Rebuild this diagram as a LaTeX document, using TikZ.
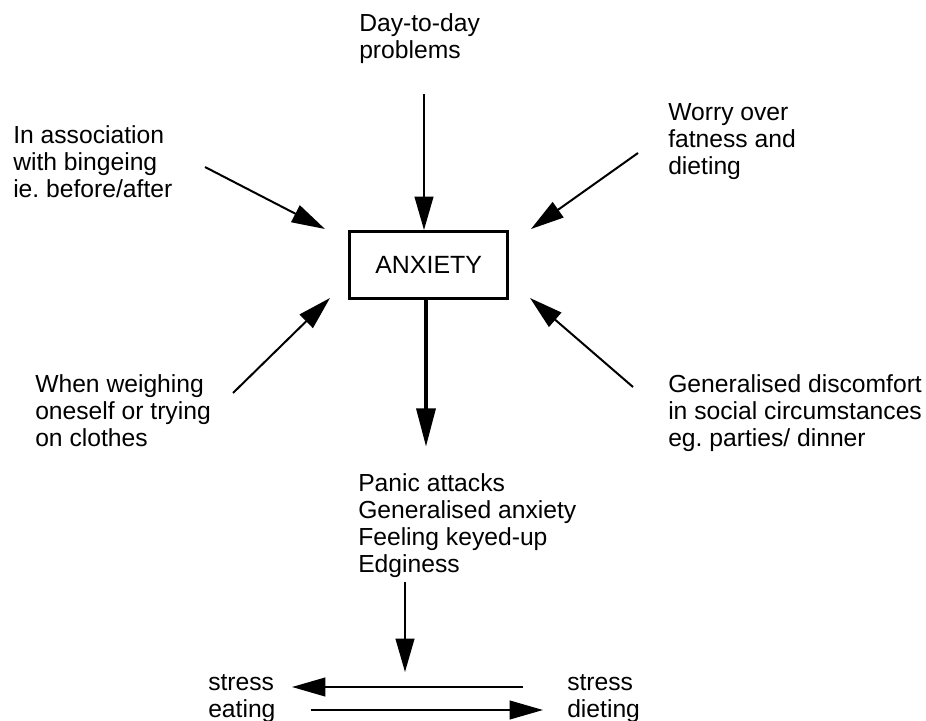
\documentclass[tikz,border=0pt]{standalone}
\usepackage{fontspec}
\setmainfont{Liberation Sans}
\usepackage{tikz}
\usetikzlibrary{positioning, arrows.meta}
\frenchspacing

\begin{document}
\begin{tikzpicture}[x=0.75pt, y=-0.75pt,
    txt/.style={anchor=base west, inner sep=0pt, align=left, font=\fontsize{18.5}{20.25}\selectfont},
    arr/.style={line width=1.5pt, arrows = {-Triangle[width=14pt, length=25pt]}},
    thickarr/.style={line width=3.4pt, arrows = {-Triangle[width=14pt, length=29pt]}}]
    \useasboundingbox (0,0) rectangle (926,721);

    \node[draw, line width=2pt, minimum width=118.5pt, minimum height=50.5pt, font=\fontsize{18.7}{20.25}\selectfont] at (428.7,265) (anx) {ANXIETY};

    % text nodes, placed at the baseline of their last line
    \node[txt] at (359,58) (day) {Day-to-day\\problems};
    \node[txt] at (13,197) (assoc) {In association\\with bingeing\\ie. before/after};
    \node[txt] at (668,174) (worry) {Worry over\\fatness and\\dieting};
    \node[txt] at (35,446) (weigh) {When weighing\\oneself or trying\\on clothes};
    \node[txt] at (668,446) (social) {Generalised discomfort\\in social circumstances\\eg. parties/ dinner};
    \node[txt] at (358,572) (panic) {Panic attacks\\Generalised anxiety\\Feeling keyed-up\\Edginess};
    \node[txt] at (208,717) (eating) {stress\\eating};
    \node[txt] at (567,717) (dieting) {stress\\dieting};

    % arrow ends
    \coordinate (dayS) at (424,94);
    \coordinate (assocS) at (205,167);
    \coordinate (assocE) at (325,229);
    \coordinate (worryS) at (638,153);
    \coordinate (worryE) at (531,229);
    \coordinate (weighS) at (233,393);
    \coordinate (weighE) at (330,298);
    \coordinate (socialS) at (633,387);
    \coordinate (socialE) at (530,298);
    \coordinate (panicE) at (426,447);
    \coordinate (edgeS) at (405,582);
    \coordinate (edgeE) at (405,672);
    \coordinate (dietS) at (523,687);
    \coordinate (eatE) at (292,687);
    \coordinate (eatS) at (311,710);
    \coordinate (dietE) at (543,710);

    \draw[arr] (dayS) -- (dayS |- anx.north);
    \draw[arr] (assocS) -- (assocE);
    \draw[arr] (worryS) -- (worryE);
    \draw[arr] (weighS) -- (weighE);
    \draw[arr] (socialS) -- (socialE);
    \draw[thickarr] (anx.south -| panicE) -- (panicE);
    \draw[arr] (edgeS) -- (edgeE);
    \draw[arr] (dietS) -- (eatE);
    \draw[arr] (eatS) -- (dietE);
  \end{tikzpicture}
\end{document}
